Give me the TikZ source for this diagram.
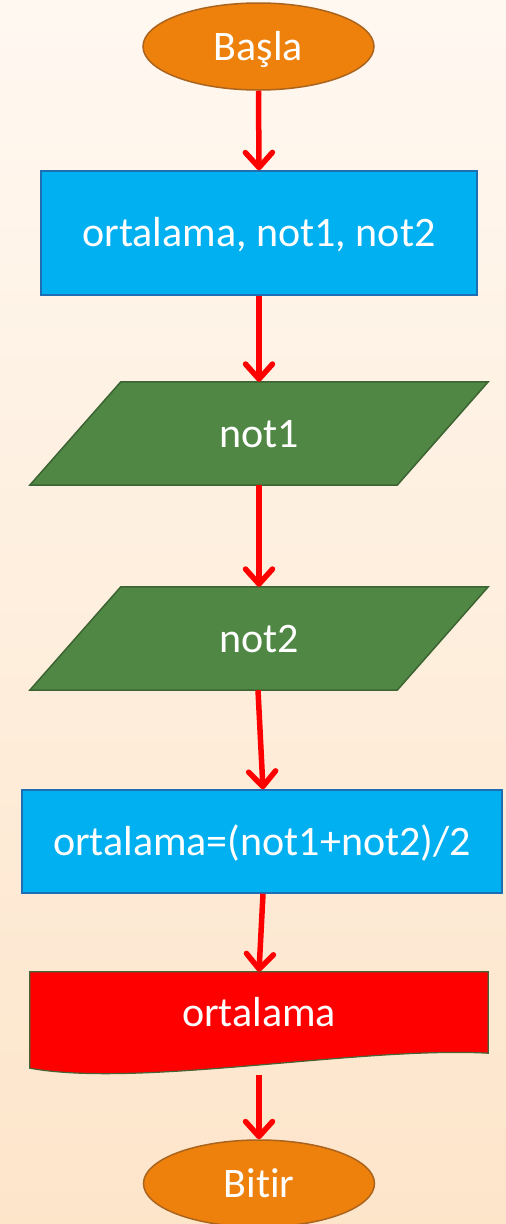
\documentclass[tikz,border=0pt]{standalone}
\usepackage{fontspec}
\setmainfont{Carlito}[Ligatures=NoCommon]
\usetikzlibrary{shapes.geometric,arrows.meta}

\definecolor{bgtop}{RGB}{255,248,241}
\definecolor{bgbot}{RGB}{253,229,202}
\definecolor{termfill}{RGB}{238,128,12}
\definecolor{termline}{RGB}{170,100,30}
\definecolor{procfill}{RGB}{0,176,240}
\definecolor{procline}{RGB}{30,110,180}
\definecolor{iofill}{RGB}{80,135,68}
\definecolor{ioline}{RGB}{60,100,50}
\definecolor{docfill}{RGB}{255,0,0}
\definecolor{docline}{RGB}{70,100,55}
\definecolor{flowred}{RGB}{255,0,0}

\pgfdeclarelayer{canvas}
\pgfdeclarelayer{shapes}
\pgfsetlayers{canvas,shapes,main}

\begin{document}
\begin{tikzpicture}[
  x=1pt, y=-1pt,
  font=\fontsize{42}{50}\selectfont,
  every node/.style={text=white, inner sep=0pt, text height=30pt, text depth=3pt},
  terminal/.style={ellipse, fill=termfill, draw=termline, line width=1.5pt,
    minimum width=231pt, minimum height=87pt},
  process/.style={rectangle, fill=procfill, draw=procline, line width=1.5pt},
  frame/.style={rectangle, minimum width=458pt},
  iobox/.style={fill=iofill, draw=ioline, line width=1.5pt, line join=miter},
  docbox/.style={fill=docfill, draw=docline, line width=1.2pt},
  flow/.style={draw=flowred, line width=5.5pt,
    -{Straight Barb[length=15pt,width=27pt,round]}}
]
% page and background gradient
\begin{pgfonlayer}{canvas}
  \shade[top color=bgtop, bottom color=bgbot] (0,0) rectangle (506,1224);
\end{pgfonlayer}
\useasboundingbox (0,0) rectangle (506,1224);

% terminals and process boxes
\node[terminal] (start) at (258.5,46.5) {Başla};
\node[process, minimum width=436pt, minimum height=124pt] (decl) at (259,233) {ortalama, not1, not2};

% input parallelograms (text node + slanted outline behind it)
\node[frame, minimum height=103pt] (in1) at (259,433.5) {not1};
\node[frame, minimum height=103pt] (in2) at (259,638.5) {not2};
\begin{pgfonlayer}{shapes}
  \foreach \n in {in1,in2}
    \draw[iobox] ([xshift=91pt]\n.north west) -- (\n.north east)
      -- ([xshift=-91pt]\n.south east) -- (\n.south west) -- cycle;
\end{pgfonlayer}

\node[process, minimum width=480pt, minimum height=103pt] (calc) at (262,841.5) {ortalama=(not1+not2)/2};

% output document shape
\node[frame, minimum height=81pt] (doc) at (259,1012.5) {ortalama};
\begin{pgfonlayer}{shapes}
  \draw[docbox] (doc.north west) -- (doc.north east) -- (doc.south east)
    .. controls ([xshift=-128pt,yshift=7pt]doc.south east)
       and ([xshift=110pt,yshift=-35pt]doc.south west)
    .. ([yshift=-15pt]doc.south west) -- cycle;
\end{pgfonlayer}
\coordinate (docout) at ([yshift=-22pt]doc.south);

\node[terminal] (stop) at (259,1183.5) {Bitir};

% connectors
\draw[flow] (start.south) -- (decl.north);
\draw[flow] (decl.south) -- (in1.north);
\draw[flow] (in1.south) -- (in2.north);
\draw[flow] ([xshift=-1pt]in2.south) -- ([xshift=1pt]calc.north);
\draw[flow] ([xshift=1pt]calc.south) -- (doc.north);
\draw[flow] (docout) -- (stop.north);
\end{tikzpicture}
\end{document}
